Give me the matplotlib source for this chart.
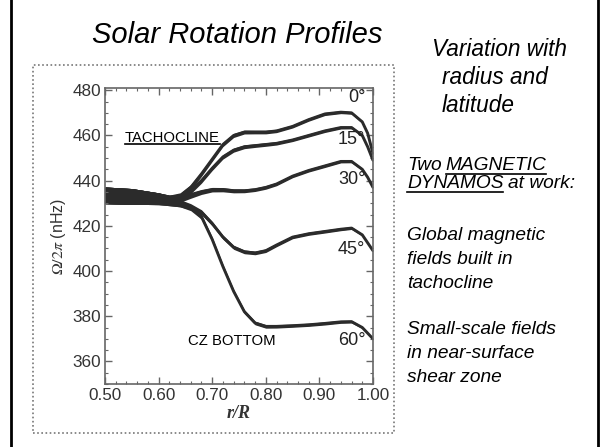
import numpy as np
import matplotlib
matplotlib.use("Agg")
import matplotlib.pyplot as plt
from matplotlib.patches import Rectangle
from matplotlib.lines import Line2D
from matplotlib.ticker import MultipleLocator, FormatStrFormatter

plt.rcParams['font.family'] = ['Liberation Sans', 'DejaVu Sans']
plt.rcParams['mathtext.fontset'] = 'stix'

# radius grid (r/R) and rotation rate (nHz)
r = [0.50, 0.55, 0.60, 0.62, 0.64, 0.66, 0.68, 0.70, 0.72, 0.74, 0.76,
     0.78, 0.80, 0.82, 0.85, 0.88, 0.91, 0.94, 0.96, 0.98, 0.99, 1.00]
lat00 = [433.5, 433, 432, 431.5, 433, 437, 443, 449.5, 456, 460, 461.5,
         461.5, 461.5, 462, 464, 467, 469.5, 470.3, 470, 466, 461, 452]
lat15 = [433.5, 433, 432, 431.5, 432.5, 435.5, 440, 445.5, 450.5, 453.5, 455,
         455.5, 456, 456.5, 458, 460, 462, 463.5, 463.5, 460, 455, 449]
lat30 = [433.5, 433, 432, 431.5, 432, 433.5, 435, 436, 436, 435.5, 435.5,
         436, 437, 438.5, 442, 444.5, 446.5, 448.5, 448.5, 445, 441.5, 437]
lat45 = [433.5, 433, 432, 431, 430, 428.5, 426, 421, 415, 410.5, 408.5,
         408, 409, 411.5, 415, 416.5, 417.5, 418.5, 419, 416, 412.5, 409]
lat60 = [433.5, 433, 432, 431, 430, 428, 424, 414, 402, 391, 382,
         377, 375.5, 375.5, 375.8, 376.2, 376.8, 377.5, 377.6, 375, 372.5, 370]
# half width of the error band
err = [3.7, 3.5, 2.6, 2.1, 1.6, 1.3, 1.1, 1.0, 0.95, 0.9, 0.85,
       0.8, 0.8, 0.75, 0.7, 0.7, 0.7, 0.65, 0.6, 0.5, 0.4, 0.3]

profiles = [lat00, lat15, lat30, lat45, lat60]
lat_labels = ['0°', '15°', '30°', '45°', '60°']
label_y = [477, 458, 440.4, 409.7, 369.2]

W, H = 600, 447
fig = plt.figure(figsize=(6, 4.47), dpi=100)

def fx(px):
    return px / W

def fy(py):
    return 1 - py / H

# slide frame and dotted box
fig.patches.append(Rectangle((fx(11), fy(452)), fx(587), 446 / H + 0.02,
                             transform=fig.transFigure, fill=False,
                             edgecolor='black', lw=2))
fig.patches.append(Rectangle((fx(33), fy(433)), fx(361), (433 - 65) / H,
                             transform=fig.transFigure, fill=False,
                             edgecolor='#777777', lw=1.2, ls=(0, (1, 1.5))))

ax = fig.add_axes([fx(105), fy(384), fx(268), (384 - 88) / H])
col = '#2b2b2b'
rr = np.array(r)
e = np.array(err)
for prof in profiles:
    p = np.array(prof)
    ax.fill_between(rr, p - e, p + e, color=col, lw=0)
    ax.plot(rr, p, color=col, lw=2.1, solid_capstyle='round')

ax.set_xlim(0.5, 1.0)
ax.set_ylim(350, 481)
ax.xaxis.set_major_locator(MultipleLocator(0.1))
ax.xaxis.set_minor_locator(MultipleLocator(0.02))
ax.yaxis.set_major_locator(MultipleLocator(20))
ax.yaxis.set_minor_locator(MultipleLocator(5))
ax.xaxis.set_major_formatter(FormatStrFormatter('%.2f'))
ax.tick_params(which='both', direction='in', top=True, right=True,
               color='#666666', labelcolor='#333333', labelsize=12.3)
ax.tick_params(which='major', length=5, width=1, pad=3)
ax.tick_params(which='minor', length=2.5, width=0.8)
for s in ax.spines.values():
    s.set_color('#666666')
    s.set_linewidth(1.2)
ax.set_yticks([360, 380, 400, 420, 440, 460, 480])

ax.set_ylabel(r'$\Omega/2\pi$ (nHz)', fontsize=11.5, color='#333333', labelpad=3)
ax.set_xlabel('r/R', fontsize=13, family='Liberation Serif', style='italic',
              weight='bold', color='#333333', labelpad=1)

for lab, y in zip(lat_labels, label_y):
    ax.text(0.986, y, lab, ha='right', va='center', fontsize=13, color='#222222')

tach = ax.text(0.537, 458.9, 'TACHOCLINE', ha='left', va='center',
               fontsize=10.7, color='black')
ax.text(0.655, 369.2, 'CZ BOTTOM', ha='left', va='center',
        fontsize=10.7, color='black')

# slide text
fig.text(fx(237), fy(35), 'Solar Rotation Profiles', ha='center', va='center',
         fontsize=21, style='italic')
fig.text(fx(432), fy(50), 'Variation with', ha='left', va='center',
         fontsize=16.3, style='italic')
fig.text(fx(442), fy(78), 'radius and', ha='left', va='center',
         fontsize=16.3, style='italic')
fig.text(fx(442), fy(105), 'latitude', ha='left', va='center',
         fontsize=16.3, style='italic')

fs = 13.8
t_two = fig.text(fx(407), fy(166), 'Two', ha='left', va='center',
                 fontsize=fs, style='italic')
fig.canvas.draw()
rend = fig.canvas.get_renderer()
bb = t_two.get_window_extent(rend)
t_mag = fig.text(fx(bb.x1 + 4), fy(166), 'MAGNETIC', ha='left', va='center',
                 fontsize=fs, style='italic')
t_dyn = fig.text(fx(407), fy(184), 'DYNAMOS', ha='left', va='center',
                 fontsize=fs, style='italic')
fig.canvas.draw()
bb_d = t_dyn.get_window_extent(rend)
fig.text(fx(bb_d.x1 + 4), fy(184), 'at work:', ha='left', va='center',
         fontsize=fs, style='italic')

body = [('Global magnetic', 235), ('fields built in', 259), ('tachocline', 283),
        ('Small-scale fields', 330), ('in near-surface', 354), ('shear zone', 377)]
for txt, y in body:
    fig.text(fx(407), fy(y), txt, ha='left', va='center', fontsize=fs,
             style='italic')

# underlines
fig.canvas.draw()
for t in [t_mag, t_dyn, tach]:
    b = t.get_window_extent(rend)
    yline = b.y0 + 0.5
    fig.lines.append(Line2D([b.x0 / W, b.x1 / W], [yline / H, yline / H],
                            transform=fig.transFigure, color='black', lw=1.2))

fig.savefig('out.png', dpi=100)
